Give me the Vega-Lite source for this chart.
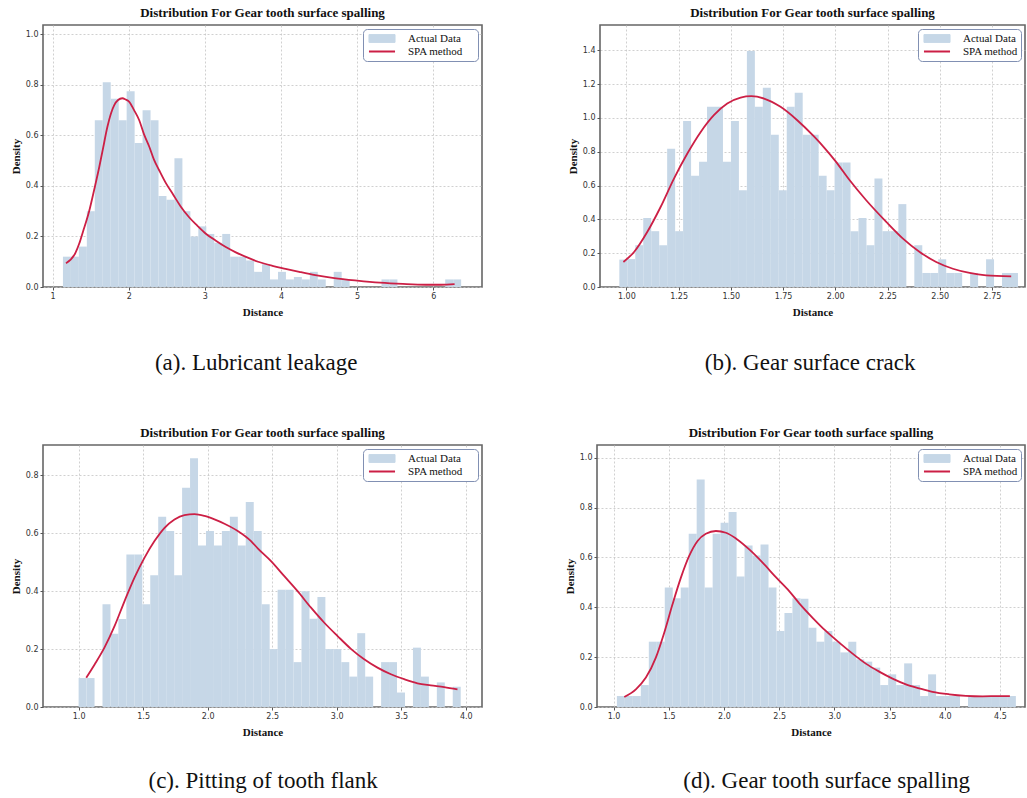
{
  "$schema": "https://vega.github.io/schema/vega-lite/v6.json",
  "background": "white",
  "padding": {"top": 6, "left": 9, "right": 0, "bottom": 0},
  "spacing": 51,
  "resolve": {"scale": {"color": "independent"}, "legend": {"color": "independent"}},
  "config": {
    "view": {"stroke": "#666666", "strokeWidth": 1.6},
    "axis": {
      "domain": false,
      "grid": true,
      "gridColor": "#c4c4c4",
      "gridDash": [2, 2],
      "gridWidth": 0.8,
      "tickColor": "#555555",
      "tickSize": 3,
      "tickWidth": 1,
      "labelFont": "DejaVu Sans",
      "labelFontSize": 8,
      "labelColor": "#333333",
      "labelPadding": 2,
      "labelOverlap": false,
      "titleFont": "Liberation Serif",
      "titleFontSize": 11,
      "titleFontWeight": "bold",
      "titleColor": "#111111",
      "zindex": 1
    },
    "axisX": {"titlePadding": 6},
    "axisY": {"titlePadding": 4},
    "title": {
      "font": "Liberation Serif",
      "fontSize": 13,
      "fontWeight": "bold",
      "color": "#111111",
      "offset": 5
    },
    "legend": {
      "orient": "top-right",
      "offset": 4,
      "padding": 3,
      "strokeColor": "#8190b3",
      "fillColor": "white",
      "cornerRadius": 4,
      "labelFont": "Liberation Serif",
      "labelFontSize": 11,
      "labelColor": "#111111",
      "symbolSize": 170,
      "symbolOffset": 10.5,
      "labelOffset": 20.5,
      "rowPadding": 0,
      "clipHeight": 13,
      "zindex": 2
    }
  },
  "datasets": {
    "a_bars": [
      {"lo": 1.136, "hi": 1.2406, "density": 0.12},
      {"lo": 1.2406, "hi": 1.3452, "density": 0.12},
      {"lo": 1.3452, "hi": 1.4498, "density": 0.16},
      {"lo": 1.4498, "hi": 1.5544, "density": 0.30},
      {"lo": 1.5544, "hi": 1.659, "density": 0.66},
      {"lo": 1.659, "hi": 1.7636, "density": 0.81},
      {"lo": 1.7636, "hi": 1.8682, "density": 0.745},
      {"lo": 1.8682, "hi": 1.9728, "density": 0.66},
      {"lo": 1.9728, "hi": 2.0774, "density": 0.775},
      {"lo": 2.0774, "hi": 2.182, "density": 0.57},
      {"lo": 2.182, "hi": 2.2866, "density": 0.70},
      {"lo": 2.2866, "hi": 2.3912, "density": 0.66},
      {"lo": 2.3912, "hi": 2.4958, "density": 0.36},
      {"lo": 2.4958, "hi": 2.6004, "density": 0.345},
      {"lo": 2.6004, "hi": 2.705, "density": 0.51},
      {"lo": 2.705, "hi": 2.8096, "density": 0.30},
      {"lo": 2.8096, "hi": 2.9142, "density": 0.20},
      {"lo": 2.9142, "hi": 3.0188, "density": 0.24},
      {"lo": 3.0188, "hi": 3.1234, "density": 0.21},
      {"lo": 3.1234, "hi": 3.228, "density": 0.175},
      {"lo": 3.228, "hi": 3.3326, "density": 0.21},
      {"lo": 3.3326, "hi": 3.4372, "density": 0.12},
      {"lo": 3.4372, "hi": 3.5418, "density": 0.12},
      {"lo": 3.5418, "hi": 3.6464, "density": 0.105},
      {"lo": 3.6464, "hi": 3.751, "density": 0.06},
      {"lo": 3.751, "hi": 3.8556, "density": 0.09},
      {"lo": 3.8556, "hi": 3.9602, "density": 0.03},
      {"lo": 3.9602, "hi": 4.0648, "density": 0.06},
      {"lo": 4.0648, "hi": 4.1694, "density": 0.03},
      {"lo": 4.1694, "hi": 4.274, "density": 0.04},
      {"lo": 4.274, "hi": 4.3786, "density": 0.03},
      {"lo": 4.3786, "hi": 4.4832, "density": 0.06},
      {"lo": 4.4832, "hi": 4.5878, "density": 0.03},
      {"lo": 4.6924, "hi": 4.797, "density": 0.06},
      {"lo": 4.797, "hi": 4.9016, "density": 0.03},
      {"lo": 5.32, "hi": 5.4246, "density": 0.03},
      {"lo": 5.4246, "hi": 5.5292, "density": 0.03},
      {"lo": 6.1568, "hi": 6.2614, "density": 0.03},
      {"lo": 6.2614, "hi": 6.366, "density": 0.03}
    ],
    "a_curve": [
      {"distance": 1.176, "density": 0.094},
      {"distance": 1.30, "density": 0.135},
      {"distance": 1.35, "density": 0.172},
      {"distance": 1.40, "density": 0.22},
      {"distance": 1.48, "density": 0.30},
      {"distance": 1.55, "density": 0.39},
      {"distance": 1.613, "density": 0.475},
      {"distance": 1.66, "density": 0.545},
      {"distance": 1.72, "density": 0.634},
      {"distance": 1.77, "density": 0.69},
      {"distance": 1.81, "density": 0.72},
      {"distance": 1.86, "density": 0.74},
      {"distance": 1.915, "density": 0.747},
      {"distance": 1.96, "density": 0.742},
      {"distance": 2.007, "density": 0.733},
      {"distance": 2.07, "density": 0.70},
      {"distance": 2.138, "density": 0.66},
      {"distance": 2.20, "density": 0.605},
      {"distance": 2.27, "density": 0.555},
      {"distance": 2.33, "density": 0.505},
      {"distance": 2.40, "density": 0.462},
      {"distance": 2.49, "density": 0.41},
      {"distance": 2.575, "density": 0.37},
      {"distance": 2.68, "density": 0.32},
      {"distance": 2.79, "density": 0.277},
      {"distance": 2.90, "density": 0.243},
      {"distance": 3.013, "density": 0.211},
      {"distance": 3.14, "density": 0.184},
      {"distance": 3.275, "density": 0.158},
      {"distance": 3.40, "density": 0.138},
      {"distance": 3.54, "density": 0.119},
      {"distance": 3.70, "density": 0.10},
      {"distance": 3.887, "density": 0.084},
      {"distance": 4.06, "density": 0.072},
      {"distance": 4.24, "density": 0.06},
      {"distance": 4.45, "density": 0.047},
      {"distance": 4.70, "density": 0.035},
      {"distance": 5.00, "density": 0.025},
      {"distance": 5.30, "density": 0.017},
      {"distance": 5.60, "density": 0.012},
      {"distance": 5.90, "density": 0.009},
      {"distance": 6.10, "density": 0.009},
      {"distance": 6.28, "density": 0.011}
    ],
    "b_bars": [
      {"lo": 0.9665, "hi": 1.0047, "density": 0.162},
      {"lo": 1.0047, "hi": 1.0428, "density": 0.165},
      {"lo": 1.0428, "hi": 1.081, "density": 0.247},
      {"lo": 1.081, "hi": 1.1191, "density": 0.408},
      {"lo": 1.1191, "hi": 1.1573, "density": 0.33},
      {"lo": 1.1573, "hi": 1.1954, "density": 0.247},
      {"lo": 1.1954, "hi": 1.2336, "density": 0.818},
      {"lo": 1.2336, "hi": 1.2717, "density": 0.33},
      {"lo": 1.2717, "hi": 1.3099, "density": 0.982},
      {"lo": 1.3099, "hi": 1.3481, "density": 0.657},
      {"lo": 1.3481, "hi": 1.3862, "density": 0.74},
      {"lo": 1.3862, "hi": 1.4244, "density": 1.065},
      {"lo": 1.4244, "hi": 1.4625, "density": 1.065},
      {"lo": 1.4625, "hi": 1.5007, "density": 0.74},
      {"lo": 1.5007, "hi": 1.5388, "density": 0.982},
      {"lo": 1.5388, "hi": 1.577, "density": 0.572},
      {"lo": 1.577, "hi": 1.6152, "density": 1.396},
      {"lo": 1.6152, "hi": 1.6533, "density": 1.065},
      {"lo": 1.6533, "hi": 1.6915, "density": 1.178},
      {"lo": 1.6915, "hi": 1.7296, "density": 0.90},
      {"lo": 1.7296, "hi": 1.7678, "density": 0.572},
      {"lo": 1.7678, "hi": 1.8059, "density": 1.065},
      {"lo": 1.8059, "hi": 1.8441, "density": 1.148},
      {"lo": 1.8441, "hi": 1.8822, "density": 0.90},
      {"lo": 1.8822, "hi": 1.9204, "density": 0.90},
      {"lo": 1.9204, "hi": 1.9586, "density": 0.657},
      {"lo": 1.9586, "hi": 1.9967, "density": 0.572},
      {"lo": 1.9967, "hi": 2.0349, "density": 0.736},
      {"lo": 2.0349, "hi": 2.073, "density": 0.736},
      {"lo": 2.073, "hi": 2.1112, "density": 0.33},
      {"lo": 2.1112, "hi": 2.1493, "density": 0.408},
      {"lo": 2.1493, "hi": 2.1875, "density": 0.247},
      {"lo": 2.1875, "hi": 2.2256, "density": 0.641},
      {"lo": 2.2256, "hi": 2.2638, "density": 0.33},
      {"lo": 2.2638, "hi": 2.302, "density": 0.33},
      {"lo": 2.302, "hi": 2.3401, "density": 0.49},
      {"lo": 2.3783, "hi": 2.4164, "density": 0.247},
      {"lo": 2.4164, "hi": 2.4546, "density": 0.083},
      {"lo": 2.4546, "hi": 2.4927, "density": 0.083},
      {"lo": 2.4927, "hi": 2.5309, "density": 0.164},
      {"lo": 2.5309, "hi": 2.5691, "density": 0.083},
      {"lo": 2.5691, "hi": 2.6072, "density": 0.083},
      {"lo": 2.6454, "hi": 2.6835, "density": 0.083},
      {"lo": 2.7217, "hi": 2.7598, "density": 0.164},
      {"lo": 2.798, "hi": 2.8361, "density": 0.083},
      {"lo": 2.8361, "hi": 2.8743, "density": 0.083}
    ],
    "b_curve": [
      {"distance": 0.986, "density": 0.148},
      {"distance": 1.037, "density": 0.207},
      {"distance": 1.10, "density": 0.325},
      {"distance": 1.164, "density": 0.473},
      {"distance": 1.228, "density": 0.641},
      {"distance": 1.292, "density": 0.789},
      {"distance": 1.356, "density": 0.917},
      {"distance": 1.419, "density": 1.016},
      {"distance": 1.483, "density": 1.085},
      {"distance": 1.547, "density": 1.12},
      {"distance": 1.598, "density": 1.128},
      {"distance": 1.659, "density": 1.114},
      {"distance": 1.738, "density": 1.065},
      {"distance": 1.818, "density": 0.986},
      {"distance": 1.898, "density": 0.89},
      {"distance": 1.95, "density": 0.82},
      {"distance": 2.0, "density": 0.746},
      {"distance": 2.069, "density": 0.631},
      {"distance": 2.148, "density": 0.513},
      {"distance": 2.244, "density": 0.385},
      {"distance": 2.324, "density": 0.286},
      {"distance": 2.404, "density": 0.207},
      {"distance": 2.483, "density": 0.148},
      {"distance": 2.563, "density": 0.108},
      {"distance": 2.643, "density": 0.083},
      {"distance": 2.722, "density": 0.069},
      {"distance": 2.842, "density": 0.063}
    ],
    "c_bars": [
      {"lo": 1.0, "hi": 1.0617, "density": 0.10},
      {"lo": 1.0617, "hi": 1.1234, "density": 0.10},
      {"lo": 1.1851, "hi": 1.2468, "density": 0.355},
      {"lo": 1.2468, "hi": 1.3084, "density": 0.253},
      {"lo": 1.3084, "hi": 1.3701, "density": 0.304},
      {"lo": 1.3701, "hi": 1.4318, "density": 0.527},
      {"lo": 1.4318, "hi": 1.4935, "density": 0.527},
      {"lo": 1.4935, "hi": 1.5552, "density": 0.355},
      {"lo": 1.5552, "hi": 1.6169, "density": 0.455},
      {"lo": 1.6169, "hi": 1.6786, "density": 0.657},
      {"lo": 1.6786, "hi": 1.7403, "density": 0.608},
      {"lo": 1.7403, "hi": 1.8019, "density": 0.455},
      {"lo": 1.8019, "hi": 1.8636, "density": 0.757},
      {"lo": 1.8636, "hi": 1.9253, "density": 0.859},
      {"lo": 1.9253, "hi": 1.987, "density": 0.558},
      {"lo": 1.987, "hi": 2.0487, "density": 0.608},
      {"lo": 2.0487, "hi": 2.1104, "density": 0.558},
      {"lo": 2.1104, "hi": 2.1721, "density": 0.608},
      {"lo": 2.1721, "hi": 2.2338, "density": 0.657},
      {"lo": 2.2338, "hi": 2.2954, "density": 0.558},
      {"lo": 2.2954, "hi": 2.3571, "density": 0.708},
      {"lo": 2.3571, "hi": 2.4188, "density": 0.608},
      {"lo": 2.4188, "hi": 2.4805, "density": 0.355},
      {"lo": 2.4805, "hi": 2.5422, "density": 0.20},
      {"lo": 2.5422, "hi": 2.6039, "density": 0.405},
      {"lo": 2.6039, "hi": 2.6656, "density": 0.405},
      {"lo": 2.6656, "hi": 2.7273, "density": 0.155},
      {"lo": 2.7273, "hi": 2.789, "density": 0.40},
      {"lo": 2.789, "hi": 2.8506, "density": 0.305},
      {"lo": 2.8506, "hi": 2.9123, "density": 0.38},
      {"lo": 2.9123, "hi": 2.974, "density": 0.20},
      {"lo": 2.974, "hi": 3.0357, "density": 0.20},
      {"lo": 3.0357, "hi": 3.0974, "density": 0.155},
      {"lo": 3.0974, "hi": 3.1591, "density": 0.105},
      {"lo": 3.1591, "hi": 3.2208, "density": 0.255},
      {"lo": 3.2208, "hi": 3.2825, "density": 0.105},
      {"lo": 3.3441, "hi": 3.4058, "density": 0.155},
      {"lo": 3.4058, "hi": 3.4675, "density": 0.155},
      {"lo": 3.4675, "hi": 3.5292, "density": 0.05},
      {"lo": 3.5909, "hi": 3.6526, "density": 0.205},
      {"lo": 3.6526, "hi": 3.7143, "density": 0.105},
      {"lo": 3.776, "hi": 3.8376, "density": 0.085},
      {"lo": 3.8993, "hi": 3.961, "density": 0.07}
    ],
    "c_curve": [
      {"distance": 1.059, "density": 0.101},
      {"distance": 1.124, "density": 0.147},
      {"distance": 1.20, "density": 0.205},
      {"distance": 1.279, "density": 0.28},
      {"distance": 1.356, "density": 0.366},
      {"distance": 1.433, "density": 0.447},
      {"distance": 1.511, "density": 0.516},
      {"distance": 1.588, "density": 0.573},
      {"distance": 1.666, "density": 0.619},
      {"distance": 1.743, "density": 0.648},
      {"distance": 1.82, "density": 0.663},
      {"distance": 1.898, "density": 0.666},
      {"distance": 1.975, "density": 0.66},
      {"distance": 2.053, "density": 0.648},
      {"distance": 2.13, "density": 0.633},
      {"distance": 2.233, "density": 0.608},
      {"distance": 2.336, "density": 0.573},
      {"distance": 2.388, "density": 0.548},
      {"distance": 2.491, "density": 0.504},
      {"distance": 2.594, "density": 0.452},
      {"distance": 2.697, "density": 0.40},
      {"distance": 2.801, "density": 0.343},
      {"distance": 2.904, "density": 0.291},
      {"distance": 3.007, "density": 0.245},
      {"distance": 3.11, "density": 0.201},
      {"distance": 3.213, "density": 0.165},
      {"distance": 3.316, "density": 0.136},
      {"distance": 3.42, "density": 0.113},
      {"distance": 3.523, "density": 0.096},
      {"distance": 3.626, "density": 0.082},
      {"distance": 3.729, "density": 0.075},
      {"distance": 3.833, "density": 0.069},
      {"distance": 3.936, "density": 0.061}
    ],
    "d_bars": [
      {"lo": 1.0302, "hi": 1.1025, "density": 0.044},
      {"lo": 1.1025, "hi": 1.1748, "density": 0.044},
      {"lo": 1.1748, "hi": 1.247, "density": 0.044},
      {"lo": 1.247, "hi": 1.3193, "density": 0.088},
      {"lo": 1.3193, "hi": 1.3916, "density": 0.262},
      {"lo": 1.3916, "hi": 1.4639, "density": 0.262},
      {"lo": 1.4639, "hi": 1.5362, "density": 0.479},
      {"lo": 1.5362, "hi": 1.6085, "density": 0.436},
      {"lo": 1.6085, "hi": 1.6807, "density": 0.479},
      {"lo": 1.6807, "hi": 1.753, "density": 0.695},
      {"lo": 1.753, "hi": 1.8253, "density": 0.913},
      {"lo": 1.8253, "hi": 1.8976, "density": 0.479},
      {"lo": 1.8976, "hi": 1.9699, "density": 0.695},
      {"lo": 1.9699, "hi": 2.0421, "density": 0.739},
      {"lo": 2.0421, "hi": 2.1144, "density": 0.782},
      {"lo": 2.1144, "hi": 2.1867, "density": 0.523},
      {"lo": 2.1867, "hi": 2.259, "density": 0.648},
      {"lo": 2.259, "hi": 2.3313, "density": 0.608},
      {"lo": 2.3313, "hi": 2.4036, "density": 0.652},
      {"lo": 2.4036, "hi": 2.4758, "density": 0.479},
      {"lo": 2.4758, "hi": 2.5481, "density": 0.305},
      {"lo": 2.5481, "hi": 2.6204, "density": 0.377},
      {"lo": 2.6204, "hi": 2.6927, "density": 0.436},
      {"lo": 2.6927, "hi": 2.765, "density": 0.434},
      {"lo": 2.765, "hi": 2.8373, "density": 0.318},
      {"lo": 2.8373, "hi": 2.9095, "density": 0.262},
      {"lo": 2.9095, "hi": 2.9818, "density": 0.305},
      {"lo": 2.9818, "hi": 3.0541, "density": 0.262},
      {"lo": 3.0541, "hi": 3.1264, "density": 0.219},
      {"lo": 3.1264, "hi": 3.1987, "density": 0.262},
      {"lo": 3.1987, "hi": 3.2709, "density": 0.191},
      {"lo": 3.2709, "hi": 3.3432, "density": 0.182},
      {"lo": 3.3432, "hi": 3.4155, "density": 0.158},
      {"lo": 3.4155, "hi": 3.4878, "density": 0.088},
      {"lo": 3.4878, "hi": 3.5601, "density": 0.131},
      {"lo": 3.5601, "hi": 3.6324, "density": 0.088},
      {"lo": 3.6324, "hi": 3.7046, "density": 0.175},
      {"lo": 3.7046, "hi": 3.7769, "density": 0.088},
      {"lo": 3.7769, "hi": 3.8492, "density": 0.044},
      {"lo": 3.8492, "hi": 3.9215, "density": 0.131},
      {"lo": 3.9215, "hi": 3.9938, "density": 0.044},
      {"lo": 3.9938, "hi": 4.066, "density": 0.044},
      {"lo": 4.066, "hi": 4.1383, "density": 0.044},
      {"lo": 4.2106, "hi": 4.2829, "density": 0.044},
      {"lo": 4.2829, "hi": 4.3552, "density": 0.044},
      {"lo": 4.3552, "hi": 4.4275, "density": 0.044},
      {"lo": 4.4275, "hi": 4.4997, "density": 0.044},
      {"lo": 4.4997, "hi": 4.572, "density": 0.044},
      {"lo": 4.572, "hi": 4.6443, "density": 0.044}
    ],
    "d_curve": [
      {"distance": 1.097, "density": 0.04},
      {"distance": 1.202, "density": 0.071},
      {"distance": 1.293, "density": 0.118},
      {"distance": 1.383, "density": 0.198},
      {"distance": 1.459, "density": 0.298},
      {"distance": 1.534, "density": 0.412},
      {"distance": 1.61, "density": 0.519},
      {"distance": 1.685, "density": 0.606},
      {"distance": 1.761, "density": 0.666},
      {"distance": 1.836, "density": 0.695},
      {"distance": 1.927, "density": 0.706},
      {"distance": 2.018, "density": 0.699},
      {"distance": 2.108, "density": 0.676},
      {"distance": 2.229, "density": 0.632},
      {"distance": 2.35, "density": 0.579},
      {"distance": 2.47, "density": 0.521},
      {"distance": 2.591, "density": 0.465},
      {"distance": 2.682, "density": 0.416},
      {"distance": 2.803, "density": 0.358},
      {"distance": 2.923, "density": 0.305},
      {"distance": 3.044, "density": 0.258},
      {"distance": 3.165, "density": 0.214},
      {"distance": 3.285, "density": 0.174},
      {"distance": 3.406, "density": 0.142},
      {"distance": 3.527, "density": 0.114},
      {"distance": 3.648, "density": 0.091},
      {"distance": 3.769, "density": 0.075},
      {"distance": 3.889, "density": 0.061},
      {"distance": 4.04, "density": 0.051},
      {"distance": 4.192, "density": 0.045},
      {"distance": 4.343, "density": 0.043},
      {"distance": 4.494, "density": 0.044},
      {"distance": 4.59, "density": 0.044}
    ]
  },
  "vconcat": [
    {
      "spacing": 83,
      "resolve": {"scale": {"color": "independent"}, "legend": {"color": "independent"}},
      "hconcat": [
        {
          "title": {"text": "(a). Lubricant leakage", "orient": "bottom", "anchor": "middle", "fontSize": 23, "fontWeight": "normal", "offset": 34, "dx": 10},
          "resolve": {"scale": {"color": "independent"}, "legend": {"color": "independent"}},
          "vconcat": [
            {
              "width": 439,
              "height": 262,
              "title": {"text": "Distribution For Gear tooth surface spalling"},
              "layer": [
                {
                  "data": {"name": "a_bars"},
                  "mark": {"type": "bar"},
                  "encoding": {
                    "x": {"field": "lo", "type": "quantitative", "scale": {"domain": [0.874, 6.64], "nice": false, "zero": false}, "axis": {"title": "Distance", "values": [1, 2, 3, 4, 5, 6], "format": "d", "labelOverlap": false}},
                    "x2": {"field": "hi"},
                    "y": {"field": "density", "type": "quantitative", "scale": {"domain": [0, 1.037], "nice": false}, "axis": {"title": "Density", "values": [0, 0.2, 0.4, 0.6, 0.8, 1.0], "format": ".1f", "labelOverlap": false}},
                    "y2": {"datum": 0},
                    "color": {
                      "datum": "Actual Data",
                      "scale": {"domain": ["Actual Data", "SPA method"], "range": ["#c6d7e7", "#cc1f45"]},
                      "legend": {
                        "title": " ",
                        "titleOrient": "right",
                        "titlePadding": 12,
                        "encoding": {"symbols": {
                          "shape": {"value": {"expr": "datum.value === 'SPA method' ? 'M-2,0L2,0' : 'M-2,-0.6L2,-0.6L2,0.6L-2,0.6Z'"}},
                          "strokeWidth": {"value": {"expr": "datum.value === 'SPA method' ? 2 : 1"}},
                          "opacity": {"value": 1},
                          "fillOpacity": {"value": 1},
                          "strokeOpacity": {"value": 1}
                        }}
                      }
                    }
                  }
                },
                {
                  "data": {"name": "a_curve"},
                  "mark": {"type": "line", "strokeWidth": 1.8, "interpolate": "monotone"},
                  "encoding": {
                    "x": {"field": "distance", "type": "quantitative", "axis": {"title": "Distance", "values": [1, 2, 3, 4, 5, 6], "format": "d", "labelOverlap": false}},
                    "y": {"field": "density", "type": "quantitative", "axis": {"title": "Density", "values": [0, 0.2, 0.4, 0.6, 0.8, 1.0], "format": ".1f", "labelOverlap": false}},
                    "color": {"datum": "SPA method", "legend": null}
                  }
                }
              ]
            }
          ]
        },
        {
          "title": {"text": "(b). Gear surface crack", "orient": "bottom", "anchor": "middle", "fontSize": 23, "fontWeight": "normal", "offset": 34, "dx": 14},
          "resolve": {"scale": {"color": "independent"}, "legend": {"color": "independent"}},
          "vconcat": [
            {
              "width": 425,
              "height": 262,
              "title": {"text": "Distribution For Gear tooth surface spalling"},
              "layer": [
                {
                  "data": {"name": "b_bars"},
                  "mark": {"type": "bar"},
                  "encoding": {
                    "x": {"field": "lo", "type": "quantitative", "scale": {"domain": [0.874, 2.908], "nice": false, "zero": false}, "axis": {"title": "Distance", "values": [1, 1.25, 1.5, 1.75, 2, 2.25, 2.5, 2.75], "format": ".2f", "labelOverlap": false}},
                    "x2": {"field": "hi"},
                    "y": {"field": "density", "type": "quantitative", "scale": {"domain": [0, 1.549], "nice": false}, "axis": {"title": "Density", "values": [0, 0.2, 0.4, 0.6, 0.8, 1.0, 1.2, 1.4], "format": ".1f", "labelOverlap": false}},
                    "y2": {"datum": 0},
                    "color": {
                      "datum": "Actual Data",
                      "scale": {"domain": ["Actual Data", "SPA method"], "range": ["#c6d7e7", "#cc1f45"]},
                      "legend": {
                        "title": null,
                        "encoding": {"symbols": {
                          "shape": {"value": {"expr": "datum.value === 'SPA method' ? 'M-2,0L2,0' : 'M-2,-0.6L2,-0.6L2,0.6L-2,0.6Z'"}},
                          "strokeWidth": {"value": {"expr": "datum.value === 'SPA method' ? 2 : 1"}},
                          "opacity": {"value": 1},
                          "fillOpacity": {"value": 1},
                          "strokeOpacity": {"value": 1}
                        }}
                      }
                    }
                  }
                },
                {
                  "data": {"name": "b_curve"},
                  "mark": {"type": "line", "strokeWidth": 1.8, "interpolate": "monotone"},
                  "encoding": {
                    "x": {"field": "distance", "type": "quantitative", "axis": {"title": "Distance", "values": [1, 1.25, 1.5, 1.75, 2, 2.25, 2.5, 2.75], "format": ".2f", "labelOverlap": false}},
                    "y": {"field": "density", "type": "quantitative", "axis": {"title": "Density", "values": [0, 0.2, 0.4, 0.6, 0.8, 1.0, 1.2, 1.4], "format": ".1f", "labelOverlap": false}},
                    "color": {"datum": "SPA method", "legend": null}
                  }
                }
              ]
            }
          ]
        }
      ]
    },
    {
      "spacing": 80,
      "resolve": {"scale": {"color": "independent"}, "legend": {"color": "independent"}},
      "hconcat": [
        {
          "title": {"text": "(c). Pitting of tooth flank", "orient": "bottom", "anchor": "middle", "fontSize": 23, "fontWeight": "normal", "offset": 32, "dx": 17},
          "resolve": {"scale": {"color": "independent"}, "legend": {"color": "independent"}},
          "vconcat": [
            {
              "width": 439,
              "height": 262,
              "title": {"text": "Distribution For Gear tooth surface spalling"},
              "layer": [
                {
                  "data": {"name": "c_bars"},
                  "mark": {"type": "bar"},
                  "encoding": {
                    "x": {"field": "lo", "type": "quantitative", "scale": {"domain": [0.724, 4.126], "nice": false, "zero": false}, "axis": {"title": "Distance", "values": [1, 1.5, 2, 2.5, 3, 3.5, 4], "format": ".1f", "labelOverlap": false}},
                    "x2": {"field": "hi"},
                    "y": {"field": "density", "type": "quantitative", "scale": {"domain": [0, 0.905], "nice": false}, "axis": {"title": "Density", "values": [0, 0.2, 0.4, 0.6, 0.8], "format": ".1f", "labelOverlap": false}},
                    "y2": {"datum": 0},
                    "color": {
                      "datum": "Actual Data",
                      "scale": {"domain": ["Actual Data", "SPA method"], "range": ["#c6d7e7", "#cc1f45"]},
                      "legend": {
                        "title": " ",
                        "titleOrient": "right",
                        "titlePadding": 12,
                        "encoding": {"symbols": {
                          "shape": {"value": {"expr": "datum.value === 'SPA method' ? 'M-2,0L2,0' : 'M-2,-0.6L2,-0.6L2,0.6L-2,0.6Z'"}},
                          "strokeWidth": {"value": {"expr": "datum.value === 'SPA method' ? 2 : 1"}},
                          "opacity": {"value": 1},
                          "fillOpacity": {"value": 1},
                          "strokeOpacity": {"value": 1}
                        }}
                      }
                    }
                  }
                },
                {
                  "data": {"name": "c_curve"},
                  "mark": {"type": "line", "strokeWidth": 1.8, "interpolate": "monotone"},
                  "encoding": {
                    "x": {"field": "distance", "type": "quantitative", "axis": {"title": "Distance", "values": [1, 1.5, 2, 2.5, 3, 3.5, 4], "format": ".1f", "labelOverlap": false}},
                    "y": {"field": "density", "type": "quantitative", "axis": {"title": "Density", "values": [0, 0.2, 0.4, 0.6, 0.8], "format": ".1f", "labelOverlap": false}},
                    "color": {"datum": "SPA method", "legend": null}
                  }
                }
              ]
            }
          ]
        },
        {
          "title": {"text": "(d). Gear tooth surface spalling", "orient": "bottom", "anchor": "middle", "fontSize": 23, "fontWeight": "normal", "offset": 32, "dx": 32},
          "resolve": {"scale": {"color": "independent"}, "legend": {"color": "independent"}},
          "vconcat": [
            {
              "width": 428,
              "height": 262,
              "title": {"text": "Distribution For Gear tooth surface spalling"},
              "layer": [
                {
                  "data": {"name": "d_bars"},
                  "mark": {"type": "bar"},
                  "encoding": {
                    "x": {"field": "lo", "type": "quantitative", "scale": {"domain": [0.85, 4.727], "nice": false, "zero": false}, "axis": {"title": "Distance", "values": [1, 1.5, 2, 2.5, 3, 3.5, 4, 4.5], "format": ".1f", "labelOverlap": false}},
                    "x2": {"field": "hi"},
                    "y": {"field": "density", "type": "quantitative", "scale": {"domain": [0, 1.051], "nice": false}, "axis": {"title": "Density", "values": [0, 0.2, 0.4, 0.6, 0.8, 1.0], "format": ".1f", "labelOverlap": false}},
                    "y2": {"datum": 0},
                    "color": {
                      "datum": "Actual Data",
                      "scale": {"domain": ["Actual Data", "SPA method"], "range": ["#c6d7e7", "#cc1f45"]},
                      "legend": {
                        "title": null,
                        "encoding": {"symbols": {
                          "shape": {"value": {"expr": "datum.value === 'SPA method' ? 'M-2,0L2,0' : 'M-2,-0.6L2,-0.6L2,0.6L-2,0.6Z'"}},
                          "strokeWidth": {"value": {"expr": "datum.value === 'SPA method' ? 2 : 1"}},
                          "opacity": {"value": 1},
                          "fillOpacity": {"value": 1},
                          "strokeOpacity": {"value": 1}
                        }}
                      }
                    }
                  }
                },
                {
                  "data": {"name": "d_curve"},
                  "mark": {"type": "line", "strokeWidth": 1.8, "interpolate": "monotone"},
                  "encoding": {
                    "x": {"field": "distance", "type": "quantitative", "axis": {"title": "Distance", "values": [1, 1.5, 2, 2.5, 3, 3.5, 4, 4.5], "format": ".1f", "labelOverlap": false}},
                    "y": {"field": "density", "type": "quantitative", "axis": {"title": "Density", "values": [0, 0.2, 0.4, 0.6, 0.8, 1.0], "format": ".1f", "labelOverlap": false}},
                    "color": {"datum": "SPA method", "legend": null}
                  }
                }
              ]
            }
          ]
        }
      ]
    }
  ]
}
